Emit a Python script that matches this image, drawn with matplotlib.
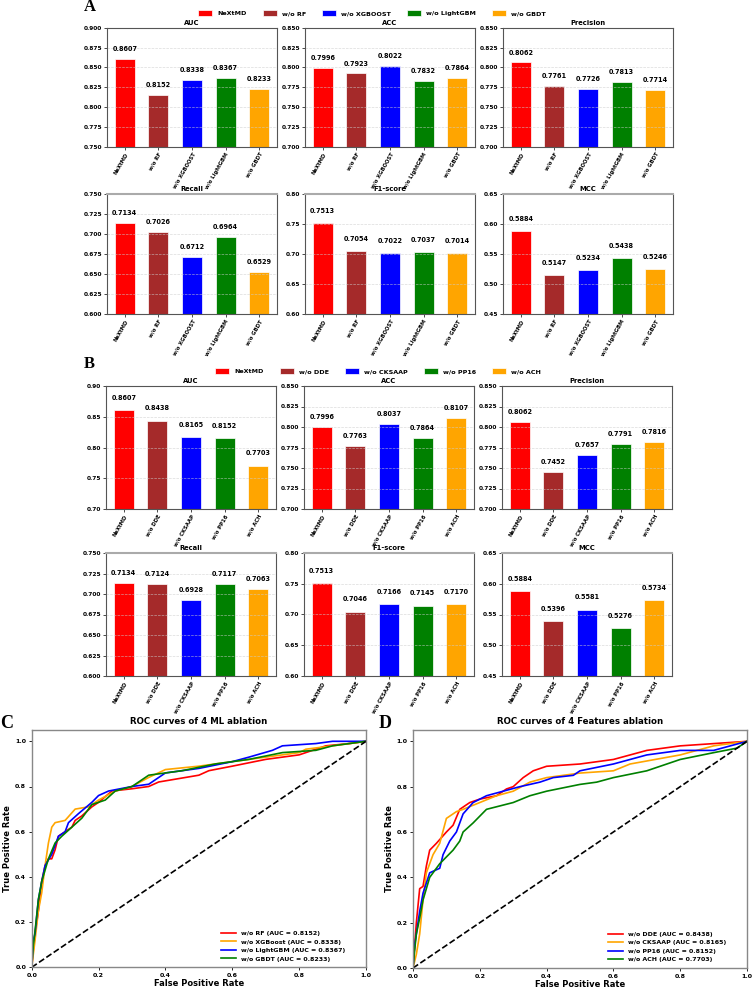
import matplotlib
matplotlib.use("Agg")
import matplotlib.pyplot as plt
from matplotlib.ticker import MultipleLocator

plt.rcParams['font.family'] = ['DejaVu Sans']
plt.rcParams['font.weight'] = 'bold'
plt.rcParams['axes.titleweight'] = 'bold'
plt.rcParams['axes.labelweight'] = 'bold'

# ---- data ----
colors = ['#FF0000', '#A52A2A', '#0000FF', '#008000', '#FFA500']

ml_labels = ['NeXtMD', 'w/o RF', 'w/o XGBOOST', 'w/o LightGBM', 'w/o GBDT']
ml_auc = [0.8607, 0.8152, 0.8338, 0.8367, 0.8233]
ml_acc = [0.7996, 0.7923, 0.8022, 0.7832, 0.7864]
ml_prec = [0.8062, 0.7761, 0.7726, 0.7813, 0.7714]
ml_recall = [0.7134, 0.7026, 0.6712, 0.6964, 0.6529]
ml_f1 = [0.7513, 0.7054, 0.7022, 0.7037, 0.7014]
ml_mcc = [0.5884, 0.5147, 0.5234, 0.5438, 0.5246]

feat_labels = ['NeXtMD', 'w/o DDE', 'w/o CKSAAP', 'w/o PP16', 'w/o ACH']
feat_auc = [0.8607, 0.8438, 0.8165, 0.8152, 0.7703]
feat_acc = [0.7996, 0.7763, 0.8037, 0.7864, 0.8107]
feat_prec = [0.8062, 0.7452, 0.7657, 0.7791, 0.7816]
feat_recall = [0.7134, 0.7124, 0.6928, 0.7117, 0.7063]
feat_f1 = [0.7513, 0.7046, 0.7166, 0.7145, 0.7170]
feat_mcc = [0.5884, 0.5396, 0.5581, 0.5276, 0.5734]

metric_names = ['AUC', 'ACC', 'Precision', 'Recall', 'F1-score', 'MCC']
ml_ylims = [(0.75, 0.90), (0.70, 0.85), (0.70, 0.85), (0.60, 0.75), (0.60, 0.80), (0.45, 0.65)]
feat_ylims = [(0.70, 0.90), (0.70, 0.85), (0.70, 0.85), (0.60, 0.75), (0.60, 0.80), (0.45, 0.65)]

# ROC points
c_rf_fpr = [0, 0.005, 0.01, 0.02, 0.03, 0.04, 0.05, 0.06, 0.07, 0.08, 0.1, 0.12, 0.13, 0.15, 0.18, 0.2, 0.24, 0.3, 0.35, 0.38, 0.42, 0.5, 0.53, 0.6, 0.7, 0.8, 0.88, 0.95, 1.0]
c_rf_tpr = [0, 0.08, 0.15, 0.25, 0.38, 0.45, 0.48, 0.48, 0.52, 0.58, 0.60, 0.62, 0.65, 0.67, 0.71, 0.73, 0.78, 0.79, 0.80, 0.82, 0.83, 0.85, 0.87, 0.89, 0.92, 0.94, 0.98, 0.99, 1.0]
c_xgb_fpr = [0, 0.005, 0.01, 0.02, 0.03, 0.04, 0.05, 0.06, 0.07, 0.1, 0.13, 0.17, 0.2, 0.25, 0.3, 0.35, 0.4, 0.5, 0.6, 0.7, 0.8, 0.82, 0.9, 1.0]
c_xgb_tpr = [0, 0.06, 0.12, 0.25, 0.33, 0.45, 0.55, 0.62, 0.64, 0.65, 0.70, 0.71, 0.74, 0.78, 0.80, 0.84, 0.875, 0.89, 0.91, 0.93, 0.95, 0.965, 0.98, 1.0]
c_lgb_fpr = [0, 0.005, 0.01, 0.02, 0.03, 0.04, 0.06, 0.07, 0.08, 0.1, 0.11, 0.14, 0.18, 0.2, 0.23, 0.3, 0.35, 0.4, 0.5, 0.6, 0.65, 0.72, 0.75, 0.85, 0.9, 1.0]
c_lgb_tpr = [0, 0.12, 0.15, 0.30, 0.38, 0.45, 0.50, 0.54, 0.58, 0.60, 0.64, 0.68, 0.73, 0.76, 0.78, 0.80, 0.81, 0.86, 0.88, 0.91, 0.93, 0.96, 0.98, 0.99, 1.0, 1.0]
c_gbdt_fpr = [0, 0.005, 0.01, 0.02, 0.03, 0.05, 0.07, 0.09, 0.12, 0.15, 0.18, 0.22, 0.25, 0.3, 0.35, 0.45, 0.55, 0.65, 0.75, 0.85, 0.9, 1.0]
c_gbdt_tpr = [0, 0.1, 0.16, 0.3, 0.38, 0.48, 0.55, 0.58, 0.62, 0.66, 0.72, 0.74, 0.78, 0.80, 0.85, 0.87, 0.90, 0.92, 0.95, 0.96, 0.98, 1.0]

d_dde_fpr = [0, 0.005, 0.01, 0.02, 0.03, 0.04, 0.05, 0.07, 0.1, 0.12, 0.14, 0.17, 0.2, 0.25, 0.28, 0.3, 0.33, 0.36, 0.4, 0.5, 0.55, 0.6, 0.7, 0.8, 0.9, 1.0]
d_dde_tpr = [0, 0.1, 0.2, 0.35, 0.36, 0.45, 0.52, 0.55, 0.60, 0.63, 0.70, 0.73, 0.745, 0.76, 0.79, 0.80, 0.84, 0.87, 0.89, 0.90, 0.91, 0.92, 0.96, 0.98, 0.99, 1.0]
d_cks_fpr = [0, 0.01, 0.02, 0.03, 0.04, 0.06, 0.08, 0.1, 0.13, 0.15, 0.2, 0.25, 0.3, 0.35, 0.4, 0.5, 0.6, 0.65, 0.8, 0.9, 1.0]
d_cks_tpr = [0, 0.06, 0.15, 0.30, 0.42, 0.50, 0.55, 0.66, 0.69, 0.70, 0.73, 0.76, 0.78, 0.82, 0.84, 0.86, 0.87, 0.90, 0.94, 0.98, 1.0]
d_pp16_fpr = [0, 0.005, 0.01, 0.02, 0.03, 0.05, 0.08, 0.09, 0.11, 0.13, 0.15, 0.18, 0.22, 0.27, 0.32, 0.38, 0.42, 0.48, 0.5, 0.6, 0.7, 0.8, 0.9, 1.0]
d_pp16_tpr = [0, 0.1, 0.15, 0.25, 0.33, 0.42, 0.44, 0.50, 0.56, 0.60, 0.68, 0.73, 0.76, 0.78, 0.80, 0.82, 0.84, 0.85, 0.87, 0.90, 0.94, 0.96, 0.96, 1.0]
d_ach_fpr = [0, 0.005, 0.01, 0.02, 0.03, 0.05, 0.08, 0.12, 0.14, 0.15, 0.18, 0.2, 0.22, 0.3, 0.35, 0.4, 0.5, 0.55, 0.6, 0.7, 0.8, 0.9, 0.97, 1.0]
d_ach_tpr = [0, 0.08, 0.15, 0.22, 0.30, 0.40, 0.46, 0.52, 0.56, 0.60, 0.64, 0.67, 0.70, 0.73, 0.76, 0.78, 0.81, 0.82, 0.84, 0.87, 0.92, 0.95, 0.97, 1.0]

W, H = 754, 991
fig = plt.figure(figsize=(W / 100, H / 100), dpi=100)


def px_axes(left, top, right, bottom):
    return fig.add_axes([left / W, 1 - bottom / H, (right - left) / W, (bottom - top) / H])


def bar_panel(labels, values, title, ylim, box, second_row):
    ax = px_axes(*box)
    x = list(range(len(labels)))
    bars = ax.bar(x, values, width=0.6, color=colors, edgecolor='white', linewidth=0.5, label=labels)
    span = ylim[1] - ylim[0]
    pad = 0.0125 if span < 0.18 else 0.02
    for xi, v in zip(x, values):
        ax.text(xi, v + pad, f'{v:.4f}', ha='center', va='center', fontsize=4.7, fontweight='bold')
    ax.set_ylim(*ylim)
    ax.yaxis.set_major_locator(MultipleLocator(0.025 if span < 0.18 else 0.05))
    ax.set_xticks(x)
    ax.set_xticklabels(labels, rotation=60, ha='right', rotation_mode='anchor', fontsize=3.8)
    ax.tick_params(axis='y', labelsize=4.2, length=2, width=0.5, pad=1.5)
    ax.tick_params(axis='x', length=2, width=0.5, pad=1.5)
    ax.grid(axis='y', linestyle='--', color='#cccccc', linewidth=0.5, alpha=0.7)
    ax.set_title(title, fontsize=4.9, pad=2)
    for s in ax.spines.values():
        s.set_color('#555555')
        s.set_linewidth(0.8)
    if second_row:
        ax.spines['top'].set_color('#aaaaaa')
        ax.spines['top'].set_linewidth(1.5)
    return bars


cols = [(107, 277), (305, 475), (503, 673)]
ml_values = [ml_auc, ml_acc, ml_prec, ml_recall, ml_f1, ml_mcc]
feat_values = [feat_auc, feat_acc, feat_prec, feat_recall, feat_f1, feat_mcc]

# panel A
rowsA = [(27.7, 146.7), (194, 314)]
for i in range(6):
    r, c = divmod(i, 3)
    bars = bar_panel(ml_labels, ml_values[i], metric_names[i], ml_ylims[i],
                     (cols[c][0], rowsA[r][0], cols[c][1], rowsA[r][1]), r == 1)
    if i == 0:
        handlesA = list(bars)
fig.legend(handlesA, ml_labels, loc='center', bbox_to_anchor=(372 / W, 1 - 13 / H), ncol=5,
           frameon=False, columnspacing=2.5, handlelength=2.2, handleheight=1.0,
           prop={'weight': 'bold', 'size': 4.6})

# panel B
rowsB = [(386, 509), (553, 676)]
for i in range(6):
    r, c = divmod(i, 3)
    bars = bar_panel(feat_labels, feat_values[i], metric_names[i], feat_ylims[i],
                     (cols[c][0] - 1, rowsB[r][0], cols[c][1] - 1, rowsB[r][1]), r == 1)
    if i == 0:
        handlesB = list(bars)
fig.legend(handlesB, feat_labels, loc='center', bbox_to_anchor=(378 / W, 1 - 371 / H), ncol=5,
           frameon=False, columnspacing=2.5, handlelength=2.2, handleheight=1.0,
           prop={'weight': 'bold', 'size': 4.6})


def roc_panel(box, title, curves):
    ax = px_axes(*box)
    for fpr, tpr, col, lab in curves:
        ax.plot(fpr, tpr, color=col, lw=1.2, label=lab)
    ax.plot([0, 1], [0, 1], 'k--', lw=1.2)
    ax.set_xlim(0, 1)
    ax.set_ylim(0, 1.05)
    ax.set_title(title, fontsize=6.2, pad=4)
    ax.set_xlabel('False Positive Rate', fontsize=6, labelpad=1)
    ax.set_ylabel('True Positive Rate', fontsize=6, labelpad=2)
    ax.tick_params(labelsize=4.5, length=2.5, width=0.6, pad=1.5)
    for s in ax.spines.values():
        s.set_color('#888888')
        s.set_linewidth(1.0)
    ax.legend(loc='lower right', bbox_to_anchor=(0.955, 0.0), frameon=False,
              handlelength=2.4, prop={'weight': 'bold', 'size': 4.5})
    return ax


roc_panel((31.7, 730, 366, 967.3), 'ROC curves of 4 ML ablation', [
    (c_rf_fpr, c_rf_tpr, 'red', 'w/o RF (AUC = 0.8152)'),
    (c_xgb_fpr, c_xgb_tpr, 'orange', 'w/o XGBoost (AUC = 0.8338)'),
    (c_lgb_fpr, c_lgb_tpr, 'blue', 'w/o LightGBM (AUC = 0.8367)'),
    (c_gbdt_fpr, c_gbdt_tpr, 'green', 'w/o GBDT (AUC = 0.8233)'),
])
roc_panel((413, 730, 747, 968), 'ROC curves of 4 Features ablation', [
    (d_dde_fpr, d_dde_tpr, 'red', 'w/o DDE (AUC = 0.8438)'),
    (d_cks_fpr, d_cks_tpr, 'orange', 'w/o CKSAAP (AUC = 0.8165)'),
    (d_pp16_fpr, d_pp16_tpr, 'blue', 'w/o PP16 (AUC = 0.8152)'),
    (d_ach_fpr, d_ach_tpr, 'green', 'w/o ACH (AUC = 0.7703)'),
])

# panel letters
for letter, xp, yp, fs in [('A', 90, 7, 12), ('B', 89, 364, 12), ('C', 7, 723, 13), ('D', 385, 723, 13)]:
    fig.text(xp / W, 1 - yp / H, letter, ha='center', va='center', fontsize=fs,
             fontweight='bold', family='Liberation Serif')

fig.savefig('out.png', dpi=100)
